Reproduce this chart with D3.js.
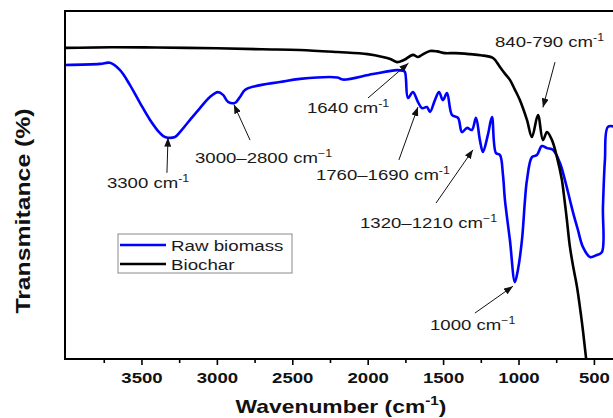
<!DOCTYPE html>
<html>
<head>
<meta charset="utf-8">
<script src="https://cdn.jsdelivr.net/npm/d3@7/dist/d3.min.js"></script>
<style>
  body { margin: 0; background: #fff; }
  text { font-family: "Liberation Sans", Arial, sans-serif; }
</style>
</head>
<body>
<div id="chart"></div>
<script>
// FTIR spectra (wavenumber cm-1, transmittance in plot units)
var rawWn = [4007, 3775, 3709, 3642, 3576, 3510, 3443, 3377, 3344, 3278, 3245, 3178, 3112, 3046, 2993, 2959, 2926, 2880, 2847, 2814, 2747, 2582, 2449, 2200, 2164, 1965, 1806, 1766, 1753, 1733, 1700, 1667, 1640, 1607, 1587, 1554, 1527, 1501, 1474, 1441, 1401, 1375, 1342, 1309, 1282, 1256, 1236, 1203, 1176, 1150, 1123, 1103, 1090, 1057, 1024, 1004, 977, 957, 944, 911, 878, 845, 811, 772, 725, 692, 659, 639, 606, 573, 526, 480, 447, 440, 427, 407, 360]
var rawT = [84.5, 84.8, 85.1, 83.0, 78.7, 73.6, 68.7, 64.9, 63.8, 63.8, 65.2, 68.7, 72.1, 75.3, 76.7, 75.9, 73.9, 73.6, 75.3, 77.3, 78.4, 79.6, 80.5, 80.9, 80.3, 81.9, 83.0, 82.8, 82.5, 75.0, 76.7, 73.9, 72.1, 72.4, 71.0, 74.4, 76.7, 74.4, 76.4, 70.1, 69.3, 65.2, 66.4, 65.8, 69.3, 62.9, 59.5, 64.4, 69.5, 59.2, 58.6, 52.9, 45.7, 34.2, 22.1, 25.6, 34.2, 45.7, 51.4, 58.0, 58.6, 61.2, 60.6, 60.1, 56.3, 51.4, 45.7, 42.2, 37.1, 32.2, 29.3, 29.9, 30.7, 43.7, 57.2, 66.7, 66.7]

var charWn = [4007, 3700, 3400, 3000, 2700, 2450, 2200, 2000, 1900, 1850, 1806, 1760, 1700, 1667, 1640, 1587, 1540, 1488, 1422, 1322, 1250, 1169, 1123, 1090, 1057, 1025, 991, 944, 911, 871, 838, 811, 778, 745, 712, 700, 679, 659, 635, 612, 590, 573, 553, 530]
var charT = [89.4, 89.6, 89.5, 89.3, 89.0, 88.8, 88.2, 87.6, 86.8, 86.2, 85.3, 85.9, 87.4, 86.8, 87.4, 88.5, 88.4, 87.9, 87.9, 87.6, 87.3, 86.5, 83.9, 82.0, 80.2, 77.5, 74.4, 68.7, 63.8, 70.1, 62.9, 65.2, 62.9, 58.0, 51.4, 47.5, 39.9, 32.2, 26.0, 20.7, 14.0, 8.3, 0.6, -8]

var seriesNames = ['Raw biomass', 'Biochar']
var seriesColors = ['#0000ff', '#000000']

var xMajor = [3500, 3000, 2500, 2000, 1500, 1000, 500]
var xMinor = [3750, 3250, 2750, 2250, 1750, 1250, 750]

var peakText = ['3300 cm', '3000\u20132800 cm', '1640 cm', '1760\u20131690 cm', '840-790 cm', '1320\u20131210 cm', '1000 cm']
var peakSup = ['-1', '\u22121', '-1', '-1', '-1', '\u22121', '\u22121']

// where each label and arrow sit, in data coords [wn, T]
var peakLayout = [
  {text: [3729, 49.0], tail: [3331, 53.5], tip: [3324, 63.6]},
  {text: [3145, 56.2], tail: [2780, 62.9], tip: [2887, 73.1]},
  {text: [2403, 70.7], tail: [1998, 75.0], tip: [1730, 85.0]},
  {text: [2343, 51.4], tail: [1793, 57.2], tip: [1667, 72.4]},
  {text: [1156, 89.6], tail: [758, 85.3], tip: [838, 72.3]},
  {text: [2051, 37.6], tail: [1547, 44.8], tip: [1302, 60.1]},
  {text: [1587, 8.3], tail: [1289, 13.2], tip: [1037, 20.9]}
]

var W = 613, H = 418
var plot = {left: 65, top: 11, right: 620, bottom: 359}
var stretch = 1.24

var svg = d3.select('#chart')
  .append('svg')
    .attr('width', W)
    .attr('height', H)

var x = d3.scaleLinear()
  .domain([4007, 327])
  .range([plot.left, plot.right])
var y = d3.scaleLinear()
  .domain([0, 100])
  .range([plot.bottom, plot.top])

var defs = svg.append('defs')
defs.append('clipPath').attr('id', 'clip')
  .append('rect')
    .attr('x', plot.left).attr('y', plot.top)
    .attr('width', plot.right - plot.left).attr('height', plot.bottom - plot.top)
defs.append('marker')
    .attr('id', 'arrow')
    .attr('markerUnits', 'userSpaceOnUse')
    .attr('markerWidth', 9).attr('markerHeight', 7)
    .attr('refX', 9).attr('refY', 3.5)
    .attr('orient', 'auto')
  .append('path')
    .attr('d', 'M0,0 L9,3.5 L0,7 Z')
    .attr('fill', '#111')

// x axis: major + minor ticks, drawn outward
var xAxis = svg.append('g')
  .attr('transform', 'translate(0,' + plot.bottom + ')')
  .call(d3.axisBottom(x).tickValues(xMajor).tickSize(6).tickPadding(7).tickFormat(d3.format('d')))
xAxis.select('.domain').remove()
xAxis.selectAll('line').attr('stroke', '#000').attr('stroke-width', 1.6)
xAxis.selectAll('text')
  .attr('fill', '#111')
  .style('font-size', '15px')
  .style('font-weight', 'bold')
  .attr('transform', 'scale(' + stretch + ',1)')

var xMinorAxis = svg.append('g')
  .attr('transform', 'translate(0,' + plot.bottom + ')')
  .call(d3.axisBottom(x).tickValues(xMinor).tickSize(4).tickFormat(''))
xMinorAxis.select('.domain').remove()
xMinorAxis.selectAll('line').attr('stroke', '#000').attr('stroke-width', 1.6)

// spectra
var line = d3.line()
  .x(function(d) { return x(d[0]) })
  .y(function(d) { return y(d[1]) })
  .curve(d3.curveCatmullRom.alpha(0.5))

var series = [
  d3.zip(rawWn, rawT),
  d3.zip(charWn, charT)
]

svg.append('g').attr('clip-path', 'url(#clip)')
  .selectAll('path.spectrum')
  .data(series)
  .enter()
  .append('path')
    .attr('class', 'spectrum')
    .attr('d', line)
    .attr('fill', 'none')
    .attr('stroke', function(d, i) { return seriesColors[i] })
    .attr('stroke-width', 2.6)
    .attr('stroke-linejoin', 'round')

// frame (right edge falls outside the picture)
svg.append('path')
  .attr('d', 'M' + plot.right + ',' + plot.top + 'H' + plot.left + 'V' + plot.bottom + 'H' + plot.right)
  .attr('fill', 'none')
  .attr('stroke', '#000')
  .attr('stroke-width', 2)

// peak annotations
function supLabel(g, main, sup, size, supSize, rise) {
  var t = g.append('text').style('font-size', size + 'px').attr('fill', '#1a1a1a')
  t.append('tspan').text(main)
  t.append('tspan').text(sup).style('font-size', supSize + 'px').attr('dy', -rise)
  return t
}

svg.selectAll('line.arrow')
  .data(peakLayout)
  .enter()
  .append('line')
    .attr('class', 'arrow')
    .attr('x1', function(d) { return x(d.tail[0]) })
    .attr('y1', function(d) { return y(d.tail[1]) })
    .attr('x2', function(d) { return x(d.tip[0]) })
    .attr('y2', function(d) { return y(d.tip[1]) })
    .attr('stroke', '#111')
    .attr('stroke-width', 1)
    .attr('marker-end', 'url(#arrow)')

peakLayout.forEach(function(d, i) {
  var g = svg.append('g')
    .attr('transform', 'translate(' + x(d.text[0]) + ',' + y(d.text[1]) + ') scale(' + stretch + ',1)')
  supLabel(g, peakText[i], peakSup[i], 15, 10, 6)
})

// legend
var legend = svg.append('g').attr('transform', 'translate(118,234)')
legend.append('rect')
  .attr('width', 174).attr('height', 39)
  .attr('fill', '#fff')
  .attr('stroke', '#8a8a8a')
  .attr('stroke-width', 1)
seriesNames.forEach(function(name, i) {
  legend.append('line')
    .attr('x1', 2).attr('x2', 48)
    .attr('y1', 11 + i * 19).attr('y2', 11 + i * 19)
    .attr('stroke', seriesColors[i])
    .attr('stroke-width', 2.6)
  legend.append('text')
    .attr('transform', 'translate(53,' + (16.5 + i * 19) + ') scale(1.25,1)')
    .style('font-size', '15px')
    .attr('fill', '#1a1a1a')
    .text(name)
})

// axis titles
var xt = svg.append('text')
  .attr('transform', 'translate(341,413) scale(1.27,1)')
  .attr('text-anchor', 'middle')
  .style('font-size', '18px')
  .style('font-weight', 'bold')
  .attr('fill', '#111')
xt.append('tspan').text('Wavenumber (cm')
xt.append('tspan').text('-1').style('font-size', '12px').attr('dy', -8)
xt.append('tspan').text(')').attr('dy', 8)

svg.append('text')
  .attr('transform', 'translate(30,211) rotate(-90) scale(1.24,1)')
  .attr('text-anchor', 'middle')
  .style('font-size', '20px')
  .style('font-weight', 'bold')
  .attr('fill', '#111')
  .text('Transmitance (%)')
</script>
</body>
</html>
